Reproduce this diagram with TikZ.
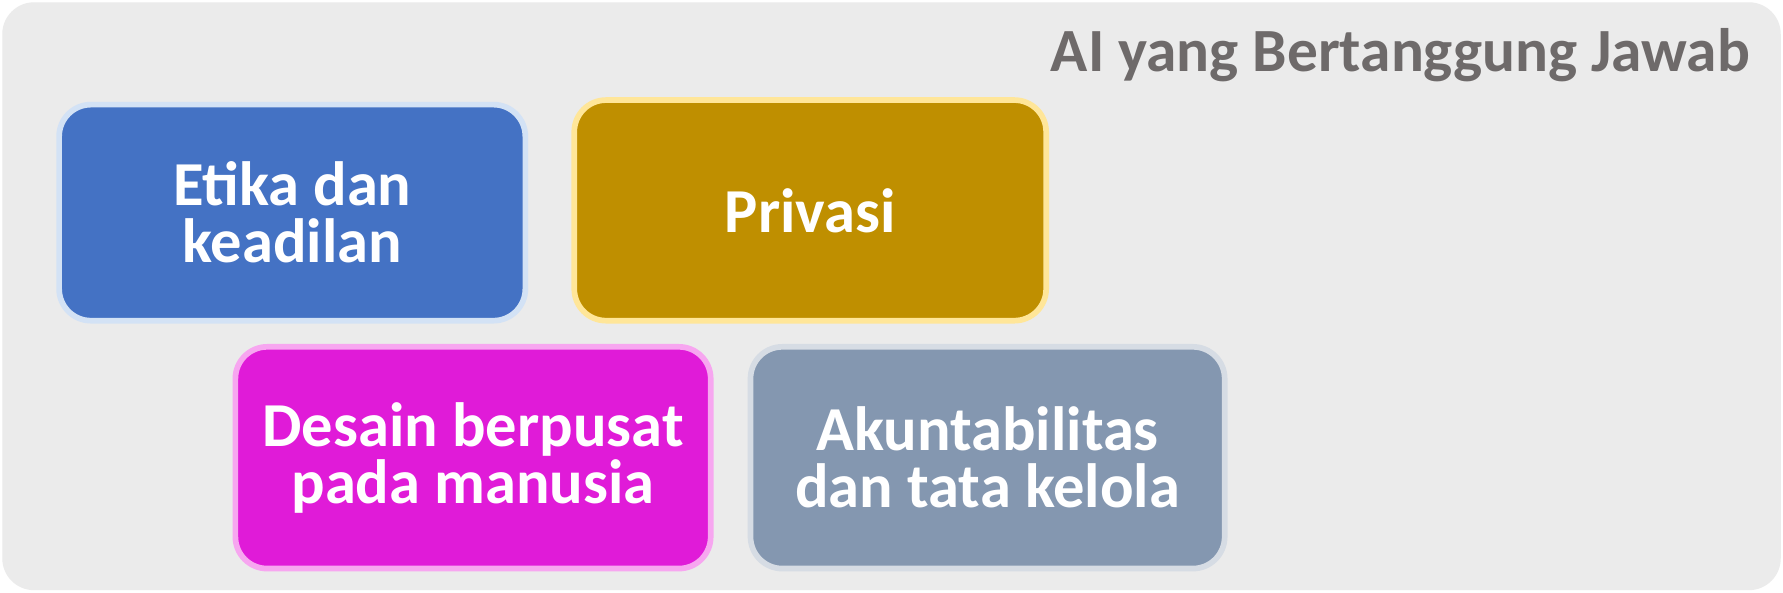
\documentclass[tikz,border=0pt]{standalone}
\usepackage{fontspec}
\setmainfont{Carlito}
\definecolor{bgc}{HTML}{EBEBEB}
\definecolor{titlec}{HTML}{6E6A6A}
\definecolor{bluef}{HTML}{4472C4}
\definecolor{bluel}{HTML}{D3E2F5}
\definecolor{goldf}{HTML}{BF8F00}
\definecolor{goldl}{HTML}{FFE699}
\definecolor{magf}{HTML}{E01BD8}
\definecolor{magl}{HTML}{F7A6F0}
\definecolor{grayf}{HTML}{8497B0}
\definecolor{grayl}{HTML}{D6DCE4}
\begin{document}
\begin{tikzpicture}[x=0.5pt,y=-0.5pt,
  card/.style={rounded corners=14pt, line width=2.5pt, text=white, align=center,
    font=\fontsize{27.5}{25}\selectfont\bfseries, inner sep=0pt},
]
\useasboundingbox (0,0) rectangle (1568,521);
\fill[white] (0,0) rectangle (1568,521);
\fill[bgc, rounded corners=14pt] (2,2) rectangle (1566,519);
\node[anchor=base east, text=titlec, font=\fontsize{27}{30}\selectfont\bfseries] (title) at (1546,63) {AI yang Bertanggung Jawab};
\draw[card, fill=bluef, draw=bluel] (52,92) rectangle node (etika) {Etika dan\\keadilan} (462,282);
\draw[card, fill=goldf, draw=goldl] (505,88) rectangle node (privasi) {Privasi} (920,282);
\draw[card, fill=magf, draw=magl] (207,305) rectangle node (desain) {Desain berpusat\\pada manusia} (625,500);
\draw[card, fill=grayf, draw=grayl] (660,305) rectangle node (akun) {Akuntabilitas\\dan tata kelola} (1077,500);
\end{tikzpicture}
\end{document}
